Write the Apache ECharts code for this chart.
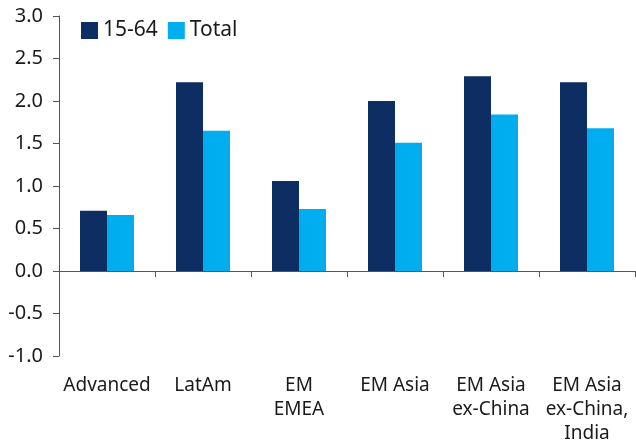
<!DOCTYPE html>
<html>
<head>
<meta charset="utf-8">
<script src="https://cdn.jsdelivr.net/npm/echarts@6/dist/echarts.min.js"></script>
<style>
  html, body { margin: 0; padding: 0; background: #fff; }
  #chart { width: 636px; height: 446px; }
</style>
</head>
<body>
<div id="chart"></div>
<script>
// Regions on the horizontal axis
const categories = ['Advanced', 'LatAm', 'EM\nEMEA', 'EM Asia', 'EM Asia\nex-China', 'EM Asia\nex-China,\nIndia'];
// Working-age (15-64) population series
const working = [0.71, 2.22, 1.06, 2.00, 2.29, 2.22];
// Total population series
const total = [0.66, 1.65, 0.73, 1.51, 1.84, 1.68];
// Value axis settings
const yMin = -1.0;
const yMax = 3.0;
const yStep = 0.5;

const FONT = '"Noto Sans", "Open Sans", sans-serif';
const DARK = '#0c2e63';
const LIGHT = '#00adee';
const AXIS = '#555555';

const chart = echarts.init(document.getElementById('chart'), null, { renderer: 'canvas' });
chart.setOption({
  animation: false,
  backgroundColor: '#ffffff',
  textStyle: { fontFamily: FONT },
  grid: { left: 59, right: 1, top: 16, bottom: 90, containLabel: false, outerBoundsMode: 'none' },
  legend: {
    left: 81,
    top: 20,
    padding: 0,
    itemWidth: 17,
    itemHeight: 17,
    itemGap: 10,
    icon: 'rect',
    textStyle: { fontFamily: FONT, fontSize: 21, color: '#1a1a1a' },
    data: ['15-64', 'Total']
  },
  xAxis: [
    {
      // baseline through zero with the category ticks
      type: 'category',
      data: categories,
      axisLine: { onZero: true, lineStyle: { color: AXIS, width: 1 } },
      axisTick: { show: true, length: 6, lineStyle: { color: AXIS } },
      axisLabel: { show: false },
      splitLine: { show: false }
    },
    {
      // category names along the bottom edge
      type: 'category',
      data: categories,
      position: 'bottom',
      axisLine: { show: false, onZero: false },
      axisTick: { show: false },
      axisLabel: {
        margin: 18,
        fontFamily: FONT,
        fontSize: 19,
        lineHeight: 24,
        color: '#1a1a1a',
        interval: 0,
        hideOverlap: false
      },
      splitLine: { show: false }
    }
  ],
  yAxis: {
    type: 'value',
    min: yMin,
    max: yMax,
    interval: yStep,
    axisLine: { show: true, lineStyle: { color: AXIS, width: 1 } },
    axisTick: { show: true, length: 6, lineStyle: { color: AXIS } },
    axisLabel: {
      margin: 16,
      fontFamily: FONT,
      fontSize: 20,
      color: '#1a1a1a',
      formatter: v => v.toFixed(1)
    },
    splitLine: { show: false }
  },
  series: [
    {
      name: '15-64',
      type: 'bar',
      data: working,
      barWidth: 27,
      barGap: '0%',
      itemStyle: { color: DARK }
    },
    {
      name: 'Total',
      type: 'bar',
      data: total,
      barWidth: 27,
      barGap: '0%',
      itemStyle: { color: LIGHT }
    }
  ]
});
</script>
</body>
</html>
